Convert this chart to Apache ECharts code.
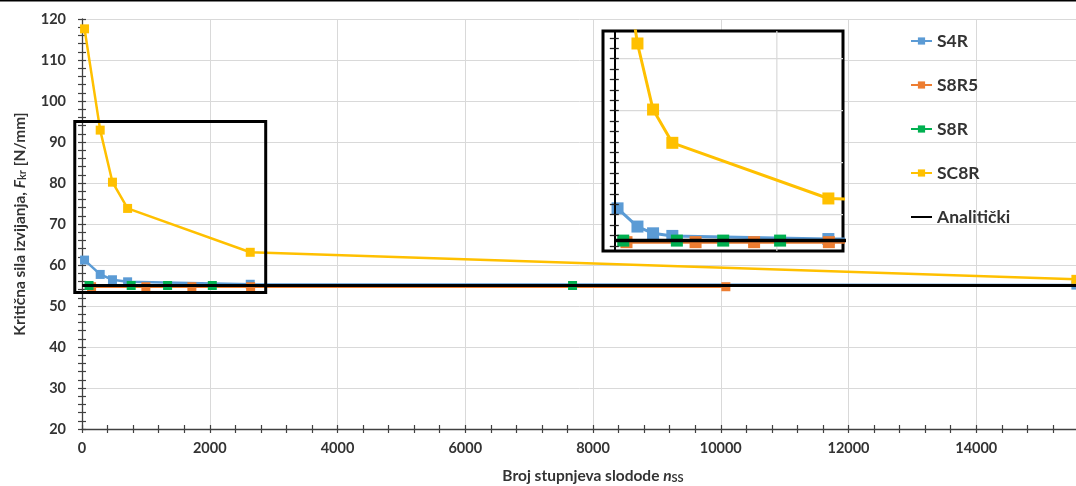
<!DOCTYPE html>
<html>
<head>
<meta charset="utf-8">
<script src="https://cdn.jsdelivr.net/npm/echarts@6/dist/echarts.min.js"></script>
<style>html,body{margin:0;padding:0;background:#fff}#c{width:1076px;height:486px}</style>
</head>
<body>
<div id="c"></div>
<script>
// ---- data ----
const xS4R = [40, 285, 477, 714, 2634, 15560];
const yS4R = [61.2, 57.7, 56.4, 55.9, 55.3, 55.1];
const xS8R5 = [150, 1000, 1720, 2640, 10080];
const yS8R5 = [54.7, 54.7, 54.7, 54.7, 54.7];
const xS8R = [110, 770, 1340, 2040, 7680];
const yS8R = [55.0, 55.0, 55.0, 55.0, 55.0];
const xSC8R = [40, 285, 477, 714, 2634, 15560];
const ySC8R = [117.6, 92.9, 80.2, 73.8, 63.1, 56.5];
const xAnal = [0, 16000];
const yAnal = [55, 55];
const seriesNames = ['S4R', 'S8R5', 'S8R', 'SC8R', 'Analitički'];
const colors = ['#5B9BD5', '#ED7D31', '#00B050', '#FFC000', '#000000'];
// zoomed region (x1, y1, x2, y2) shown magnified in the inset
const zoomBox = [-113, 95, 2876, 53.3];
const insetX = [-139, 2814];
const insetY = [53, 95.3];
const insetGridY = [60, 70, 80, 90];
const insetGridX = [2000];
const insetTicks = [];
for (let v = 54; v <= 94; v += 2) insetTicks.push(v);

const pairs = (xs, ys) => xs.map((x, i) => [x, ys[i]]);
const dataSets = [pairs(xS4R, yS4R), pairs(xS8R5, yS8R5), pairs(xS8R, yS8R), pairs(xSC8R, ySC8R), pairs(xAnal, yAnal)];

const FONT = 'Lato';
const axisColor = '#404040';
const labelColor = '#333333';

// inset box geometry
const IN = { left: 603, top: 31, width: 240, height: 220 };
const pxPerX = IN.width / (insetX[1] - insetX[0]);
const zeroX = IN.left + (0 - insetX[0]) * pxPerX;

function mkSeries(xi, yi, lw, ms, zBase) {
  return seriesNames.map((n, i) => ({
    name: n, type: 'line', xAxisIndex: xi, yAxisIndex: yi,
    data: dataSets[i],
    symbol: i === 4 ? 'none' : 'rect', symbolSize: ms,
    lineStyle: { color: colors[i], width: i === 4 ? lw + 0.5 : lw },
    itemStyle: { color: colors[i] },
    z: zBase + i, animation: false, silent: true
  }));
}

const chart = echarts.init(document.getElementById('c'), null, { renderer: 'canvas' });

const mainXBase = { type: 'value', gridIndex: 0, min: 0, max: 16000, interval: 2000, position: 'bottom', z: 0 };
const mainYBase = { type: 'value', gridIndex: 0, min: 20, max: 120, interval: 10, position: 'left', z: 0 };
const insetYBase = { type: 'value', gridIndex: 1, min: insetY[0], max: insetY[1], position: 'left', offset: -(zeroX - IN.left), z: 46 };
const topLine = { id: 'topline', type: 'line', shape: { x1: 0, y1: 0.5, x2: 1076, y2: 0.5 }, style: { stroke: '#000', lineWidth: 2 }, z: 100 };

const option = {
  backgroundColor: '#ffffff',
  animation: false,
  textStyle: { fontFamily: FONT },
  graphic: [topLine],
  grid: [
    { left: 82, top: 19, width: 1022, height: 410, containLabel: false, outerBoundsMode: 'none' },
    { left: IN.left, top: IN.top, width: IN.width, height: IN.height, show: true, backgroundColor: '#ffffff', borderColor: '#000', borderWidth: 3, z: 1, outerBoundsMode: 'none' }
  ],
  legend: {
    orient: 'vertical', left: 905, top: 26, itemGap: 24, itemWidth: 21, itemHeight: 9,
    data: seriesNames.map((n, i) => i === 4 ? { name: n, itemStyle: { opacity: 0 } } : n),
    selectedMode: false,
    textStyle: { fontFamily: FONT, fontWeight: 'bold', fontSize: 17.5, color: labelColor, lineHeight: 20 }
  },
  xAxis: [
    Object.assign({}, mainXBase, {
      name: '{a|Broj stupnjeva slodode }{i|n}{s|SS}', nameLocation: 'middle', nameGap: 38,
      nameTextStyle: { rich: {
        a: { fontFamily: FONT, fontWeight: 'bold', fontSize: 15.5, color: labelColor },
        i: { fontFamily: FONT, fontWeight: 'bold', fontStyle: 'italic', fontSize: 15.5, color: labelColor },
        s: { fontFamily: FONT, fontWeight: 'bold', fontSize: 11, color: labelColor, verticalAlign: 'bottom', padding: [6, 0, 0, 0] }
      } },
      axisLine: { show: true, onZero: false, lineStyle: { color: axisColor, width: 1.3 } },
      axisTick: { show: true, inside: false, length: 4, lineStyle: { color: axisColor, width: 1.2 } },
      minorTick: { show: true, splitNumber: 5, length: 4, lineStyle: { color: axisColor, width: 1.2 } },
      axisLabel: { margin: 12, fontFamily: FONT, fontWeight: 'bold', fontSize: 14.5, color: labelColor, formatter: v => String(v) },
      splitLine: { show: true, lineStyle: { color: '#d9d9d9', width: 1 } }
    }),
    Object.assign({}, mainXBase, {
      axisLine: { show: false, onZero: false },
      axisTick: { show: true, inside: true, length: 4, lineStyle: { color: axisColor, width: 1.2 } },
      minorTick: { show: true, splitNumber: 5, length: 4, lineStyle: { color: axisColor, width: 1.2 } },
      axisLabel: { show: false }, splitLine: { show: false }
    }),
    { type: 'value', gridIndex: 1, min: insetX[0], max: insetX[1], show: false, splitLine: { show: false } }
  ],
  yAxis: [
    Object.assign({}, mainYBase, {
      name: '{a|Kritična sila izvijanja, }{i|F}{s|kr}{a| [N/mm]}', nameLocation: 'middle', nameGap: 54,
      nameTextStyle: { rich: {
        a: { fontFamily: FONT, fontWeight: 'bold', fontSize: 15.5, color: labelColor },
        i: { fontFamily: FONT, fontWeight: 'bold', fontStyle: 'italic', fontSize: 15.5, color: labelColor },
        s: { fontFamily: FONT, fontWeight: 'bold', fontSize: 11, color: labelColor, verticalAlign: 'bottom', padding: [6, 0, 0, 0] }
      } },
      axisLine: { show: true, onZero: false, lineStyle: { color: axisColor, width: 1.3 } },
      axisTick: { show: true, inside: false, length: 4, lineStyle: { color: axisColor, width: 1.2 } },
      minorTick: { show: true, splitNumber: 5, length: 4, lineStyle: { color: axisColor, width: 1.2 } },
      axisLabel: { margin: 16, fontFamily: FONT, fontWeight: 'bold', fontSize: 14.5, color: labelColor },
      splitLine: { show: true, lineStyle: { color: '#d9d9d9', width: 1 } }
    }),
    Object.assign({}, mainYBase, {
      axisLine: { show: false, onZero: false },
      axisTick: { show: true, inside: true, length: 4, lineStyle: { color: axisColor, width: 1.2 } },
      minorTick: { show: true, splitNumber: 5, length: 4, lineStyle: { color: axisColor, width: 1.2 } },
      axisLabel: { show: false }, splitLine: { show: false }
    }),
    Object.assign({}, insetYBase, {
      axisLine: { show: true, onZero: false, lineStyle: { color: '#000', width: 2 } },
      axisTick: { show: true, inside: false, length: 4.5, customValues: insetTicks, lineStyle: { color: '#222', width: 1.3 } },
      axisLabel: { show: false }, splitLine: { show: false } }),
    Object.assign({}, insetYBase, {
      axisLine: { show: false, onZero: false },
      axisTick: { show: true, inside: true, length: 4.5, customValues: insetTicks, lineStyle: { color: '#222', width: 1.3 } },
      axisLabel: { show: false }, splitLine: { show: false } })
  ],
  series: [].concat(
    mkSeries(0, 0, 2.5, 9, 10),
    [{
      type: 'custom', name: 'zoomBox', xAxisIndex: 0, yAxisIndex: 0, clip: false, silent: true, z: 18,
      data: [zoomBox],
      renderItem: function (params, api) {
        const p1 = api.coord([api.value(0), api.value(1)]);
        const p2 = api.coord([api.value(2), api.value(3)]);
        return { type: 'rect', shape: { x: p1[0], y: p1[1], width: p2[0] - p1[0], height: p2[1] - p1[1] },
          style: { fill: 'none', stroke: '#000', lineWidth: 3 } };
      }
    }],
    mkSeries(2, 2, 3, 12, 40)
  )
};
chart.setOption(option);

// inset grid lines, positioned through the inset grid's own scales
const finder = { gridIndex: 1 };
const gl = [topLine];
insetGridY.forEach((v, k) => {
  const a = chart.convertToPixel(finder, [0, v]);
  const b = chart.convertToPixel(finder, [insetX[1], v]);
  gl.push({ id: 'igy' + k, type: 'line', silent: true, z: 35,
    shape: { x1: a[0], y1: a[1], x2: b[0], y2: b[1] }, style: { stroke: '#d9d9d9', lineWidth: 1.2 } });
});
insetGridX.forEach((v, k) => {
  const a = chart.convertToPixel(finder, [v, insetY[0]]);
  const b = chart.convertToPixel(finder, [v, insetY[1]]);
  gl.push({ id: 'igx' + k, type: 'line', silent: true, z: 35,
    shape: { x1: a[0], y1: a[1], x2: b[0], y2: b[1] }, style: { stroke: '#d9d9d9', lineWidth: 1.2 } });
});
chart.setOption({ graphic: gl });
</script>
</body>
</html>
